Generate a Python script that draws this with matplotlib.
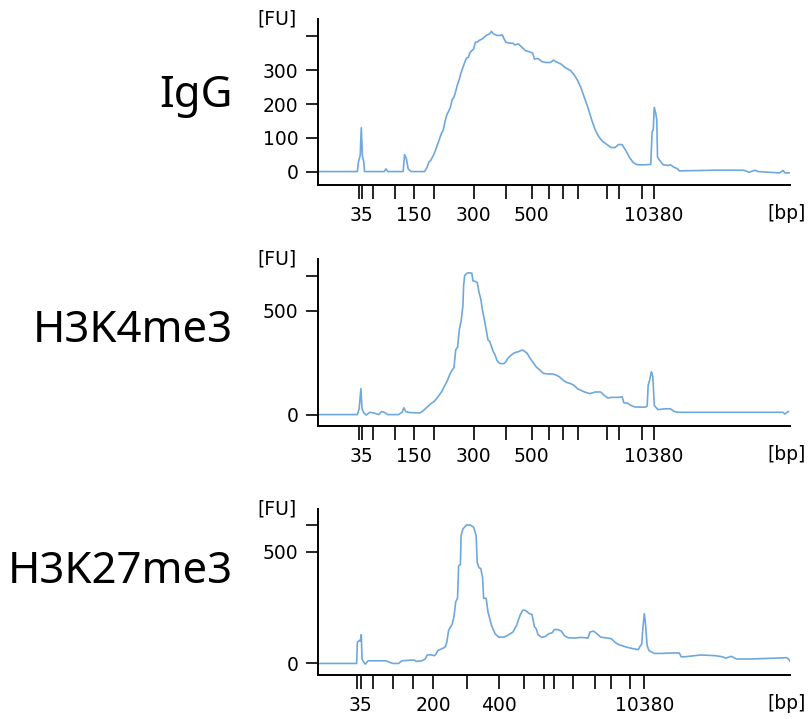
import matplotlib
matplotlib.use("Agg")
import matplotlib.pyplot as plt

plt.rcParams['font.family'] = ['DejaVu Sans']

# electropherogram traces: migration time (a.u.) vs fluorescence [FU]
igg_time = [195, 300, 303, 308, 311, 314, 318, 320, 375, 380, 385, 428, 432, 437, 442, 450,
            488, 495, 500, 505, 510, 515, 520, 525, 530, 535, 540, 545, 550, 555, 560, 565,
            570, 575, 580, 585, 590, 595, 600, 605, 610, 615, 620, 625, 630, 635, 640, 650,
            660, 670, 675, 680, 690, 700, 705, 710, 715, 725, 735, 740, 750, 760, 770, 780,
            790, 795, 805, 815, 825, 840, 848, 855, 870, 880, 895, 905, 915, 925, 935, 945,
            955, 965, 975, 985, 1000, 1010, 1020, 1030, 1040, 1050, 1060, 1070, 1080, 1090,
            1100, 1120, 1124, 1127, 1130, 1134, 1137, 1139, 1145, 1155, 1170, 1175, 1185,
            1195, 1200, 1250, 1300, 1380, 1395, 1412, 1420, 1450, 1480, 1490, 1495, 1510]
igg_fu = [0, 0, 28, 48, 130, 48, 28, 0, 0, 8, 0, 0, 50, 38, 8, 0,
          0, 13, 28, 33, 43, 53, 68, 83, 98, 113, 123, 148, 168, 178, 190, 213,
          220, 238, 258, 273, 293, 308, 323, 336, 338, 353, 358, 363, 383, 383, 388, 393,
          403, 408, 415, 408, 403, 403, 405, 393, 383, 380, 380, 375, 378, 368, 358, 355,
          351, 333, 335, 326, 323, 323, 330, 325, 318, 308, 300, 288, 271, 248, 218, 188,
          153, 123, 103, 90, 78, 71, 71, 80, 80, 63, 43, 28, 21, 20,
          20, 21, 118, 123, 190, 173, 153, 43, 33, 20, 18, 20, 13,
          8, 2, 3, 4, 4, -2, 4, 0, -2, -4, 3, -4, -4]

k4_time = [195, 300, 305, 310, 313, 318, 325, 335, 345, 360, 368, 375, 385, 415, 425, 430,
           435, 445, 475, 485, 495, 505, 515, 525, 535, 545, 550, 555, 560, 565, 570, 575,
           580, 585, 590, 595, 597, 600, 605, 610, 620, 623, 630, 635, 640, 645, 650, 655,
           660, 665, 670, 675, 680, 685, 690, 695, 700, 710, 715, 720, 730, 740, 750, 760,
           765, 775, 780, 790, 800, 810, 820, 830, 845, 855, 865, 875, 885, 895, 905, 915,
           925, 935, 950, 965, 980, 990, 1000, 1010, 1030, 1040, 1045, 1055, 1065, 1075,
           1095, 1105, 1110, 1113, 1117, 1122, 1126, 1130, 1140, 1160, 1175, 1185, 1195,
           1250, 1350, 1490, 1495, 1505]
k4_fu = [0, 0, 28, 125, 28, 8, -2, 11, 8, 0, 15, 11, 0, 0, 11, 33,
         15, 10, 8, 20, 36, 52, 64, 85, 109, 142, 158, 179, 199, 215, 226, 313,
         324, 410, 451, 524, 622, 671, 679, 684, 682, 645, 642, 637, 590, 557, 500, 459,
         410, 361, 352, 328, 303, 287, 262, 251, 246, 246, 254, 270, 287, 299, 303, 311,
         308, 295, 279, 254, 230, 215, 199, 196, 196, 191, 182, 166, 155, 150, 142, 125,
         117, 109, 101, 109, 109, 93, 80, 83, 83, 86, 57, 55, 44, 37,
         36, 36, 41, 142, 166, 207, 182, 44, 24, 28, 28, 16, 11,
         11, 11, 11, 3, 15]

k27_time = [195, 298, 300, 305, 308, 311, 313, 318, 322, 330, 340, 380, 390, 400, 415, 425,
            450, 460, 465, 480, 490, 495, 505, 515, 520, 525, 535, 545, 550, 555, 565, 570,
            575, 580, 583, 588, 590, 595, 605, 615, 625, 632, 635, 640, 645, 650, 653, 660,
            665, 675, 685, 695, 710, 720, 735, 745, 755, 762, 770, 780, 788, 795, 800, 805,
            815, 825, 835, 845, 850, 860, 870, 880, 890, 910, 925, 945, 950, 960, 970, 980,
            995, 1010, 1020, 1030, 1045, 1060, 1075, 1085, 1090, 1095, 1098, 1102, 1105,
            1110, 1115, 1130, 1150, 1180, 1200, 1205, 1215, 1260, 1300, 1320, 1330, 1345,
            1360, 1400, 1470, 1500, 1505, 1510]
k27_fu = [0, 0, 95, 103, 100, 129, 20, 5, -3, 12, 12, 12, 5, 0, 0, 12,
          15, 15, 9, 12, 20, 38, 39, 35, 42, 58, 65, 73, 95, 148, 176, 209,
          277, 292, 436, 444, 573, 603, 621, 621, 611, 573, 452, 429, 426, 384, 292, 292,
          232, 171, 133, 118, 118, 126, 141, 171, 217, 239, 238, 224, 220, 164, 156, 129,
          117, 121, 133, 138, 152, 152, 145, 123, 115, 114, 117, 114, 141, 145, 133, 118,
          115, 111, 95, 85, 77, 70, 65, 62, 76, 88, 156, 223, 186,
          80, 58, 45, 45, 47, 47, 30, 30, 38, 35, 30, 24, 32,
          20, 20, 24, 26, 20, 9]

# ladder marks on the size axis [bp]
ladder_ab = [305, 312, 343, 405, 457, 515, 625, 715, 787, 837, 875, 918, 998, 1032, 1097, 1128]
ladder_ab_labels = ['', '35', '', '', '150', '', '300', '', '500', '', '', '', '', '', '', '10380']
ladder_c = [300, 310, 343, 400, 455, 512, 607, 697, 765, 822, 850, 903, 965, 1010, 1062, 1102]
ladder_c_labels = ['', '35', '', '', '', '200', '', '400', '', '', '', '', '', '', '', '10380']

samples = ['IgG', 'H3K4me3', 'H3K27me3']
traces = [(igg_time, igg_fu), (k4_time, k4_fu), (k27_time, k27_fu)]
ladders = [(ladder_ab, ladder_ab_labels), (ladder_ab, ladder_ab_labels), (ladder_c, ladder_c_labels)]
yticks = [[0, 100, 200, 300, 400], [0, 500, 666], [0, 500, 621]]
ytick_labels = [['0', '100', '200', '300', ''], ['0', '500', ''], ['0', '500', '']]
ylims = [(-40, 453), (-54, 752), (-53, 694)]

rects = [[0.3926, 0.7426, 0.583, 0.2316],
         [0.3926, 0.4078, 0.583, 0.2325],
         [0.3926, 0.0608, 0.583, 0.2317]]
title_y = [0.469, 0.501, 0.554]
color = '#6fa8dc'

fig = plt.figure(figsize=(8.10, 7.19), dpi=100)

for i, name in enumerate(samples):
    ax = fig.add_axes(rects[i])
    t, fu = traces[i]
    ax.plot(t, fu, color=color, lw=1.2)
    ax.set_xlim(190, 1510)
    ax.set_ylim(*ylims[i])

    ticks, labels = ladders[i]
    ax.set_xticks(ticks)
    ax.set_xticklabels(labels)
    ax.set_yticks(yticks[i])
    ax.set_yticklabels(ytick_labels[i])

    for side in ['top', 'right']:
        ax.spines[side].set_visible(False)
    for side in ['left', 'bottom']:
        ax.spines[side].set_linewidth(1.4)
    ax.tick_params(axis='x', length=10, width=1.2, pad=5, labelsize=13.5)
    ax.tick_params(axis='y', length=9, width=1.2, pad=5, labelsize=13.5)

    ax.text(-0.045, 1.0, '[FU]', transform=ax.transAxes, ha='right', va='center', fontsize=13.5)
    ax.text(1.033, -0.17, '[bp]', transform=ax.transAxes, ha='right', va='center', fontsize=13.5)
    ax.text(-0.18, title_y[i], name, transform=ax.transAxes, ha='right', va='baseline',
            fontsize=31.5, family=['Noto Sans', 'DejaVu Sans'])

fig.savefig('out.png', dpi=100)
